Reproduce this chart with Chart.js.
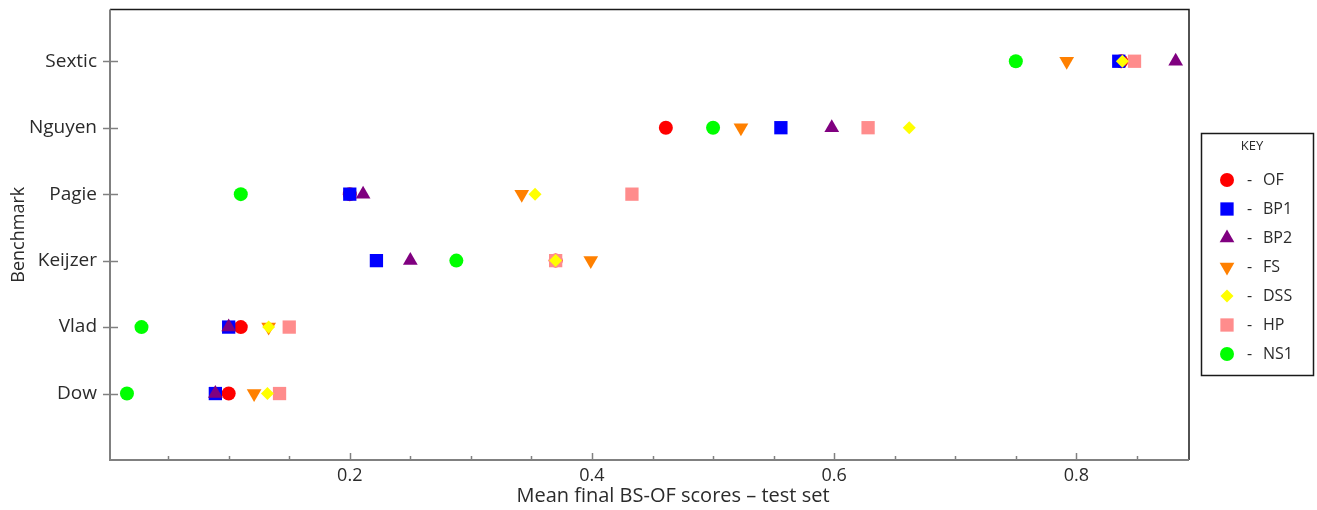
<!DOCTYPE html>
<html>
<head>
<meta charset="utf-8">
<title>Mean final BS-OF scores – test set</title>
<script src="https://cdn.jsdelivr.net/npm/chart.js@4/dist/chart.umd.min.js"></script>
<style>
  html, body { margin: 0; padding: 0; background: #ffffff; }
  #wrap { width: 1317px; height: 510px; }
</style>
</head>
<body>
<div id="wrap"><canvas id="c" width="1317" height="510"></canvas></div>
<script>
// Benchmarks, listed bottom to top (y = 1 .. 6)
const benchmarks = ['Dow', 'Vlad', 'Keijzer', 'Pagie', 'Nguyen', 'Sextic'];

// Mean final BS-OF score on the test set, one value per benchmark (same order)
const OF  = [0.100, 0.110, 0.370, 0.200, 0.461, 0.837];
const BP1 = [0.089, 0.100, 0.222, 0.200, 0.556, 0.835];
const BP2 = [0.089, 0.100, 0.250, 0.211, 0.598, 0.882];
const FS  = [0.121, 0.133, 0.399, 0.342, 0.523, 0.792];
const DSS = [0.132, 0.133, 0.370, 0.353, 0.662, 0.838];
const HP  = [0.142, 0.150, 0.370, 0.433, 0.628, 0.848];
const NS1 = [0.016, 0.028, 0.288, 0.110, 0.500, 0.750];

// Axis ticks and titles
const xMajorTicks = [0.2, 0.4, 0.6, 0.8];
const xMinorStep = 0.05;
const xMin = 0.002, xMax = 0.893;
const yMin = 0, yMax = 6.78;
const xTitle = 'Mean final BS-OF scores – test set';
const yTitle = 'Benchmark';

const FONT = "'Open Sans', 'Noto Sans', sans-serif";
const TEXT = '#2b2b2b';

function toPoints(values) {
  return values.map((v, i) => ({ x: v, y: i + 1 }));
}

// name, values, colour, point style, radius, rotation, stacking order (0 = on top)
const seriesDefs = [
  { name: 'OF',  values: OF,  color: '#ff0000', style: 'circle',   r: 7,   rot: 0,   order: 5 },
  { name: 'BP1', values: BP1, color: '#0000ff', style: 'rect',     r: 9.4, rot: 0,   order: 4 },
  { name: 'BP2', values: BP2, color: '#800080', style: 'triangle', r: 8.5, rot: 0,   order: 3 },
  { name: 'FS',  values: FS,  color: '#ff8000', style: 'triangle', r: 8.5, rot: 180, order: 1 },
  { name: 'DSS', values: DSS, color: '#ffff00', style: 'rectRot',  r: 6.5, rot: 0,   order: 0 },
  { name: 'HP',  values: HP,  color: '#ff8c8c', style: 'rect',     r: 9.4, rot: 0,   order: 2 },
  { name: 'NS1', values: NS1, color: '#00ff00', style: 'circle',   r: 7,   rot: 0,   order: 6 }
];

const datasets = seriesDefs.map(s => ({
  label: s.name,
  data: toPoints(s.values),
  showLine: false,
  order: s.order,
  pointStyle: s.style,
  pointRadius: s.r,
  pointHoverRadius: s.r,
  pointRotation: s.rot,
  pointBackgroundColor: s.color,
  pointBorderColor: s.color,
  pointBorderWidth: 0,
  backgroundColor: s.color,
  borderColor: s.color
}));

function drawMarker(ctx, s, x, y) {
  const opts = { pointStyle: s.style, radius: s.r, rotation: s.rot, borderWidth: 0 };
  ctx.save();
  ctx.fillStyle = s.color;
  ctx.strokeStyle = s.color;
  if (Chart.helpers && Chart.helpers.drawPoint) {
    Chart.helpers.drawPoint(ctx, opts, x, y);
  } else {
    ctx.beginPath();
    ctx.arc(x, y, s.r, 0, Math.PI * 2);
    ctx.fill();
  }
  ctx.restore();
}

// Plot frame, inward tick marks, x-axis title and the KEY box
const framePlugin = {
  id: 'frameAndKey',
  afterDraw(chart) {
    const { ctx, chartArea: a, scales } = chart;
    const xs = scales.x, ys = scales.y;
    ctx.save();

    // top and right edges
    ctx.strokeStyle = '#1a1a1a';
    ctx.lineWidth = 1.5;
    ctx.beginPath();
    ctx.moveTo(a.left, a.top);
    ctx.lineTo(a.right, a.top);
    ctx.lineTo(a.right, a.bottom);
    ctx.stroke();

    // axis lines
    ctx.strokeStyle = '#808080';
    ctx.lineWidth = 2;
    ctx.beginPath();
    ctx.moveTo(a.left, a.top);
    ctx.lineTo(a.left, a.bottom);
    ctx.lineTo(a.right, a.bottom);
    ctx.stroke();

    // x ticks point up into the plot
    ctx.lineWidth = 1.5;
    xs.ticks.forEach(t => {
      const px = Math.round(xs.getPixelForValue(t.value)) + 0.5;
      const major = xMajorTicks.some(m => Math.abs(m - t.value) < 1e-6);
      const len = major ? 7 : 4;
      ctx.beginPath();
      ctx.moveTo(px, a.bottom);
      ctx.lineTo(px, a.bottom - len);
      ctx.stroke();
    });

    // y ticks cross the axis
    ys.ticks.forEach(t => {
      const py = Math.round(ys.getPixelForValue(t.value)) + 0.5;
      ctx.beginPath();
      ctx.moveTo(a.left - 7, py);
      ctx.lineTo(a.left + 8, py);
      ctx.stroke();
    });

    // x-axis title, set slightly right of the plot centre
    ctx.fillStyle = TEXT;
    ctx.textBaseline = 'middle';
    ctx.textAlign = 'center';
    ctx.font = `20px ${FONT}`;
    ctx.fillText(xTitle, 673, 496);

    // KEY box
    const bx = 1201, by = 133, bw = 112, bh = 242;
    ctx.strokeStyle = '#1a1a1a';
    ctx.lineWidth = 1.5;
    ctx.strokeRect(bx + 0.5, by + 0.5, bw, bh);

    ctx.fillStyle = TEXT;
    ctx.textAlign = 'center';
    ctx.font = `13px ${FONT}`;
    ctx.fillText('KEY', 1252, 146);

    ctx.font = `16px ${FONT}`;
    seriesDefs.forEach((s, i) => {
      const y = 180 + i * 29;
      drawMarker(ctx, s, 1227, y);
      ctx.fillStyle = TEXT;
      ctx.textAlign = 'left';
      ctx.fillText('-', 1247, y);
      ctx.fillText(s.name, 1263, y);
    });

    ctx.restore();
  }
};

new Chart(document.getElementById('c'), {
  type: 'scatter',
  data: { datasets },
  plugins: [framePlugin],
  options: {
    responsive: false,
    animation: false,
    clip: false,
    layout: { padding: { top: 8, right: 128, left: 0, bottom: 0 } },
    plugins: {
      legend: { display: false },
      tooltip: { enabled: false }
    },
    scales: {
      x: {
        type: 'linear',
        min: xMin,
        max: xMax,
        afterBuildTicks(scale) {
          const ticks = [];
          for (let k = 1; k * xMinorStep <= xMax; k++) {
            ticks.push({ value: Math.round(k * xMinorStep * 100) / 100 });
          }
          scale.ticks = ticks;
        },
        afterFit(scale) {
          scale.height = 50;
          scale.paddingLeft = 0;
          scale.paddingRight = 0;
        },
        grid: { display: false, drawTicks: false },
        border: { display: false },
        ticks: {
          autoSkip: false,
          maxRotation: 0,
          padding: 5,
          color: TEXT,
          font: { family: FONT, size: 18 },
          callback(v) {
            return xMajorTicks.some(m => Math.abs(m - v) < 1e-6) ? v.toFixed(1) : '';
          }
        },
        title: { display: false }
      },
      y: {
        type: 'linear',
        min: yMin,
        max: yMax,
        afterBuildTicks(scale) {
          scale.ticks = benchmarks.map((b, i) => ({ value: i + 1 }));
        },
        afterFit(scale) {
          scale.width = 110;
          scale.paddingTop = 0;
          scale.paddingBottom = 0;
        },
        grid: { display: false, drawTicks: false },
        border: { display: false },
        ticks: {
          autoSkip: false,
          padding: 13,
          color: TEXT,
          font: { family: FONT, size: 19 },
          callback(v) { return benchmarks[v - 1] || ''; }
        },
        title: {
          display: true,
          text: yTitle,
          color: TEXT,
          font: { family: FONT, size: 18 },
          padding: { top: 8, bottom: 0 }
        }
      }
    }
  }
});
</script>
</body>
</html>
